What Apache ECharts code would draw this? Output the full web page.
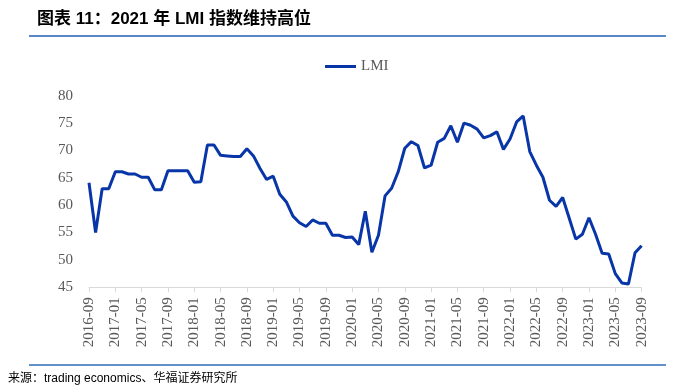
<!DOCTYPE html>
<html style="height: 100%">
<head>
	<meta charset="utf-8">
</head>
<body style="height: 100%; margin: 0; background: #fff">
<div id="container" style="width: 676px; height: 392px"></div>
<script type="text/javascript" src="https://cdn.jsdelivr.net/npm/echarts@6/dist/echarts.min.js"></script>
<script type="text/javascript">
    // monthly LMI, 2016-09 .. 2023-09
    var lmi2016 = [64.1, 55.0, 63.0, 63.0];
    var lmi2017 = [66.1, 66.1, 65.7, 65.7, 65.1, 65.1, 62.8, 62.8, 66.3, 66.3, 66.3, 66.3];
    var lmi2018 = [64.2, 64.3, 71.0, 71.0, 69.1, 69.0, 68.9, 68.9, 70.3, 69.0, 66.7, 64.7];
    var lmi2019 = [65.3, 62.0, 60.6, 58.0, 56.8, 56.1, 57.3, 56.7, 56.7, 54.5, 54.5, 54.1];
    var lmi2020 = [54.2, 52.8, 58.9, 51.4, 54.5, 61.7, 63.1, 66.1, 70.4, 71.6, 70.9, 66.8];
    var lmi2021 = [67.3, 71.5, 72.2, 74.5, 71.5, 75.0, 74.6, 73.9, 72.3, 72.7, 73.4, 70.2];
    var lmi2022 = [72.1, 75.2, 76.3, 69.8, 67.3, 65.1, 60.9, 59.8, 61.4, 57.6, 53.8, 54.7];
    var lmi2023 = [57.7, 54.7, 51.2, 51.1, 47.5, 45.8, 45.6, 51.3, 52.6];

    var lmi = [].concat(lmi2016, lmi2017, lmi2018, lmi2019, lmi2020, lmi2021, lmi2022, lmi2023);

    // month labels
    var months = [];
    var y = 2016, m = 9;
    for (var i = 0; i < lmi.length; i++) {
        months.push(y + '-' + (m < 10 ? '0' + m : m));
        m++;
        if (m > 12) { m = 1; y++; }
    }

    var serif = 'Liberation Serif';
    var myChart = echarts.init(document.getElementById('container'));

    var option = {
        backgroundColor: '#fff',
        animation: false,
        graphic: [
            {
                type: 'text', left: 37, top: 11,
                style: {
                    text: '图表 11：2021 年 LMI 指数维持高位',
                    font: 'bold 17px "Liberation Sans", "Noto Sans CJK SC"',
                    fill: '#000'
                }
            },
            {
                type: 'line',
                shape: { x1: 29, y1: 36, x2: 666, y2: 36 },
                style: { stroke: '#5b87c8', lineWidth: 2 }
            },
            {
                type: 'line',
                shape: { x1: 29, y1: 365, x2: 666, y2: 365 },
                style: { stroke: '#2e6cb8', lineWidth: 1.5 }
            },
            {
                type: 'text', left: 8, top: 373,
                style: {
                    text: '来源：trading economics、华福证券研究所',
                    font: '12px "Liberation Sans", "Noto Sans CJK SC"',
                    fill: '#000'
                }
            }
        ],
        legend: {
            data: ['LMI'],
            left: 320,
            top: 54,
            icon: 'rect',
            itemWidth: 31,
            itemHeight: 3,
            itemGap: 5,
            textStyle: { color: '#595959', fontFamily: serif, fontSize: 15 }
        },
        grid: {
            left: 89,
            right: 34.4,
            top: 95.7,
            bottom: 104.7,
            containLabel: false
        },
        xAxis: {
            type: 'category',
            data: months,
            boundaryGap: false,
            axisLine: { lineStyle: { color: '#d9d9d9', width: 1 } },
            axisTick: { interval: 3, length: 5, lineStyle: { color: '#d9d9d9' } },
            axisLabel: {
                interval: 3,
                rotate: 90,
                margin: 10,
                color: '#595959',
                fontFamily: serif,
                fontSize: 15
            },
            splitLine: { show: false }
        },
        yAxis: {
            type: 'value',
            min: 45,
            max: 80,
            interval: 5,
            axisLine: { show: false },
            axisTick: { show: false },
            splitLine: { show: false },
            axisLabel: {
                margin: 16,
                color: '#595959',
                fontFamily: serif,
                fontSize: 15
            }
        },
        series: [{
            name: 'LMI',
            type: 'line',
            data: lmi,
            showSymbol: false,
            symbol: 'none',
            lineStyle: { color: '#0836a8', width: 3 },
            itemStyle: { color: '#0836a8' }
        }]
    };

    myChart.setOption(option);
</script>
</body>
</html>
